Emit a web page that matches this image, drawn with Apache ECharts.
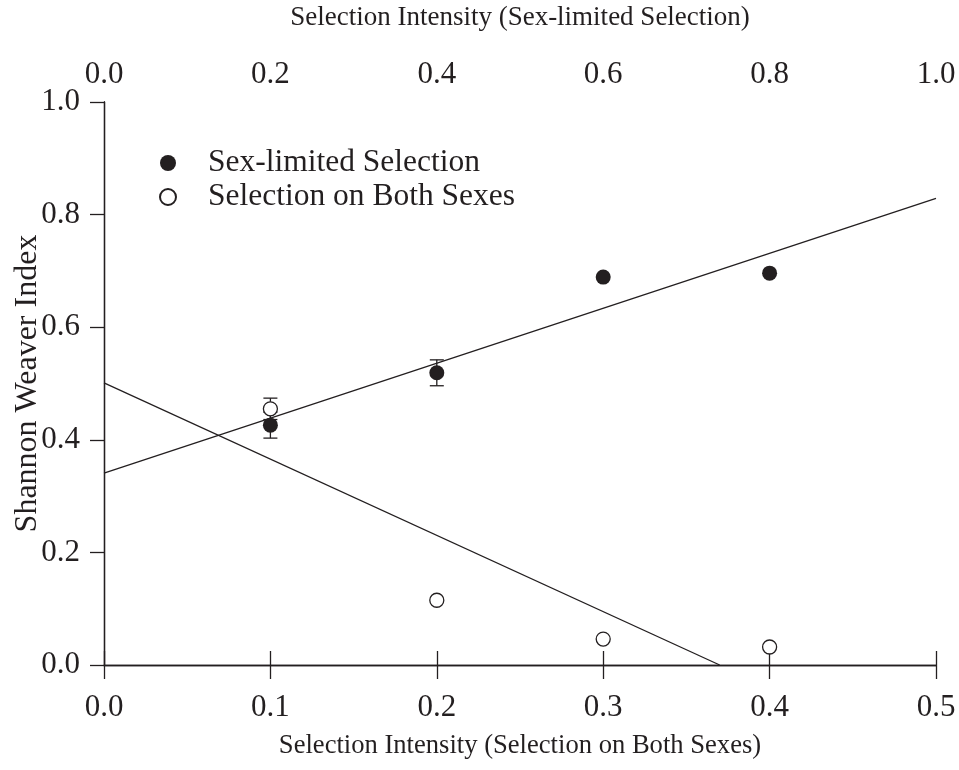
<!DOCTYPE html>
<html>
<head>
<meta charset="utf-8">
<script src="https://cdn.jsdelivr.net/npm/echarts@6/dist/echarts.min.js"></script>
<style>
html, body { margin: 0; padding: 0; background: #fff; }
#main { width: 959px; height: 770px; }
</style>
</head>
<body>
<div id="main"></div>
<script>
// intensity on the bottom axis (selection on both sexes)
var xBoth = [0.1, 0.2, 0.3, 0.4];
// sex-limited selection (plotted against the same positions)
var sexLimited = [0.426, 0.519, 0.689, 0.696];
var sexLimitedLow = [0.403, 0.496, null, null];
var sexLimitedHigh = [0.449, 0.542, null, null];
var bothSexes = [0.455, 0.115, 0.046, 0.032];
var bothSexesLow = [0.436, null, null, null];
var bothSexesHigh = [0.474, null, null, null];
// regression lines (end points)
var fitSexLimited = [[0, 0.341], [0.5, 0.829]];
var fitBoth = [[0, 0.501], [0.370, 0]];

var FONT = 'Liberation Serif';
var ink = '#231f20';

function pairs(xs, ys) {
	var out = [];
	for (var i = 0; i < xs.length; i++) {
		out.push([xs[i], ys[i]]);
	}
	return out;
}
function errData(xs, lo, hi) {
	var out = [];
	for (var i = 0; i < xs.length; i++) {
		if (lo[i] != null) out.push([xs[i], lo[i], hi[i]]);
	}
	return out;
}
function errRender(params, api) {
	var x = api.value(0);
	var p1 = api.coord([x, api.value(1)]);
	var p2 = api.coord([x, api.value(2)]);
	var w = 7;
	var st = { stroke: ink, lineWidth: 1.3 };
	return {
		type: 'group',
		children: [
			{ type: 'line', shape: { x1: p1[0], y1: p1[1], x2: p2[0], y2: p2[1] }, style: st },
			{ type: 'line', shape: { x1: p1[0] - w, y1: p1[1], x2: p1[0] + w, y2: p1[1] }, style: st },
			{ type: 'line', shape: { x1: p2[0] - w, y1: p2[1], x2: p2[0] + w, y2: p2[1] }, style: st }
		]
	};
}
function fmt(v) { return v.toFixed(1); }

var axisCommon = {
	axisLine: { show: true, lineStyle: { color: ink, width: 1.3 } },
	axisTick: { show: true, length: 14, lineStyle: { color: ink, width: 1.3 } },
	axisLabel: { color: ink, fontFamily: FONT, fontSize: 31, formatter: fmt },
	splitLine: { show: false },
	nameMoveOverlap: false,
	nameTextStyle: { color: ink, fontFamily: FONT, fontSize: 27 }
};

var option = {
	backgroundColor: '#fff',
	animation: false,
	grid: { left: 104, right: 23, top: 102, bottom: 105, show: false, outerBoundsMode: 'none', containLabel: false },
	legend: {
		data: ['Sex-limited Selection', 'Selection on Both Sexes'],
		orient: 'vertical',
		left: 154,
		top: 142,
		itemGap: 2,
		itemWidth: 16,
		itemHeight: 16,
		textStyle: { color: ink, fontFamily: FONT, fontSize: 31.5, padding: [0, 0, 0, 27] }
	},
	xAxis: [
		Object.assign({}, axisCommon, {
			type: 'value', position: 'bottom', min: 0, max: 0.5, interval: 0.1,
			axisLabel: Object.assign({}, axisCommon.axisLabel, { margin: 27 }),
			name: 'Selection Intensity (Selection on Both Sexes)',
			nameLocation: 'middle', nameGap: 68,
			nameTextStyle: { color: ink, fontFamily: FONT, fontSize: 26.6 }
		}),
		Object.assign({}, axisCommon, {
			type: 'value', position: 'top', min: 0, max: 1, interval: 0.2,
			axisLabel: Object.assign({}, axisCommon.axisLabel, { margin: 12 }),
			name: 'Selection Intensity (Sex-limited Selection)',
			nameLocation: 'middle', nameGap: 71
		})
	],
	yAxis: [
		Object.assign({}, axisCommon, {
			type: 'value', position: 'left', min: 0, max: 1, interval: 0.2,
			axisLabel: Object.assign({}, axisCommon.axisLabel, { margin: 24 }),
			name: 'Shannon Weaver Index',
			nameLocation: 'middle', nameGap: 60,
			nameTextStyle: { color: ink, fontFamily: FONT, fontSize: 32 }
		}),
		{
			type: 'value', position: 'right', min: 0, max: 1,
			axisLine: { show: true, lineStyle: { color: ink, width: 1.3 } },
			axisTick: { show: false }, axisLabel: { show: false }, splitLine: { show: false }
		}
	],
	series: [
		{
			name: 'fitSex', type: 'line', data: fitSexLimited, symbol: 'none',
			lineStyle: { color: ink, width: 1.3 }, silent: true
		},
		{
			name: 'fitBoth', type: 'line', data: fitBoth, symbol: 'none',
			lineStyle: { color: ink, width: 1.3 }, silent: true
		},
		{
			type: 'custom', renderItem: errRender, data: errData(xBoth, sexLimitedLow, sexLimitedHigh), z: 3
		},
		{
			type: 'custom', renderItem: errRender, data: errData(xBoth, bothSexesLow, bothSexesHigh), z: 3
		},
		{
			name: 'Sex-limited Selection', type: 'scatter', data: pairs(xBoth, sexLimited),
			symbol: 'circle', symbolSize: 15, z: 5,
			itemStyle: { color: ink, opacity: 1 }
		},
		{
			name: 'Selection on Both Sexes', type: 'scatter', data: pairs(xBoth, bothSexes),
			symbol: 'circle', symbolSize: 14, z: 5,
			itemStyle: { color: '#fff', borderColor: ink, borderWidth: 1.3, opacity: 1 }
		}
	]
};

var myChart = echarts.init(document.getElementById('main'));
myChart.setOption(option);
</script>
</body>
</html>
